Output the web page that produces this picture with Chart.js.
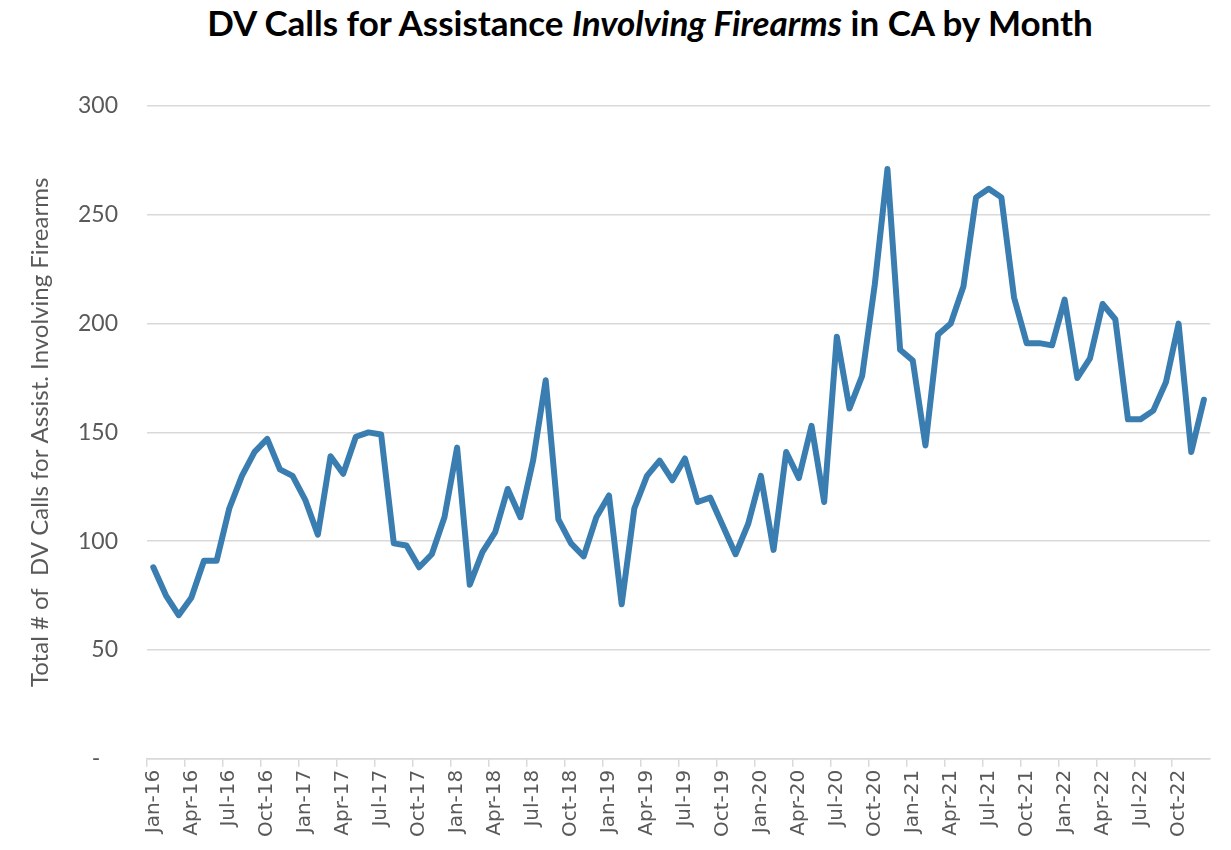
<!DOCTYPE html>
<html>
<head>
<meta charset="utf-8">
<script src="https://cdn.jsdelivr.net/npm/chart.js@4.4.0/dist/chart.umd.min.js"></script>
<style>
  body { margin: 0; background: #fff; }
  #wrap { position: relative; width: 1231px; height: 850px; }
  #title {
    position: absolute; top: 1px; left: 0; width: 1300px; text-align: center;
    font-family: Lato, "Open Sans", sans-serif; font-weight: bold; font-size: 35px; color: #000;
  }
  canvas { position: absolute; top: 0; left: 0; }
</style>
</head>
<body>
<div id="wrap">
  <div id="title">DV Calls for Assistance <i>Involving Firearms</i> in CA by Month</div>
  <canvas id="dvChart" width="1231" height="850"></canvas>
</div>
<script>
const monthNames = ["Jan", "Feb", "Mar", "Apr", "May", "Jun", "Jul", "Aug", "Sep", "Oct", "Nov", "Dec"];
const years = ["16", "17", "18", "19", "20", "21", "22"];

const calls2016 = [88, 75, 66, 74, 91, 91, 115, 130, 141, 147, 133, 130];
const calls2017 = [119, 103, 139, 131, 148, 150, 149, 99, 98, 88, 94, 111];
const calls2018 = [143, 80, 95, 104, 124, 111, 137, 174, 110, 99, 93, 111];
const calls2019 = [121, 71, 115, 130, 137, 128, 138, 118, 120, 107, 94, 108];
const calls2020 = [130, 96, 141, 129, 153, 118, 194, 161, 176, 218, 271, 188];
const calls2021 = [183, 144, 195, 200, 217, 258, 262, 258, 212, 191, 191, 190];
const calls2022 = [211, 175, 184, 209, 202, 156, 156, 160, 173, 200, 141, 165];

const yTicks = [0, 50, 100, 150, 200, 250, 300];

const labels = [];
years.forEach((y) => monthNames.forEach((m) => labels.push(`${m}-${y}`)));
const calls = [].concat(calls2016, calls2017, calls2018, calls2019, calls2020, calls2021, calls2022);

const gray = "#595959";
const gridGray = "#d9d9d9";

new Chart(document.getElementById("dvChart"), {
  type: "line",
  data: {
    labels: labels,
    datasets: [
      {
        label: "DV Calls",
        data: calls,
        borderColor: "#3a7db0",
        borderWidth: 6,
        pointRadius: 0,
        tension: 0,
        borderJoinStyle: "round",
        borderCapStyle: "round",
      },
    ],
  },
  options: {
    responsive: false,
    animation: false,
    devicePixelRatio: 1,
    layout: { padding: { top: 106, right: 18, left: 22, bottom: 10 } },
    plugins: {
      legend: { display: false },
      tooltip: { enabled: false },
    },
    scales: {
      x: {
        offset: true,
        grid: {
          offset: true,
          drawOnChartArea: false,
          tickLength: 8,
          lineWidth: 1.5,
          color: (ctx) => (ctx.index % 3 === 0 ? gridGray : "rgba(0,0,0,0)"),
        },
        border: { display: true, color: gridGray, width: 1.5 },
        ticks: {
          autoSkip: false,
          maxRotation: 90,
          minRotation: 90,
          padding: 3,
          color: gray,
          font: { family: "DejaVu Sans", size: 20 },
          callback: (v, i) => (i % 3 === 0 ? labels[i] : ""),
        },
      },
      y: {
        min: 0,
        max: 300,
        afterBuildTicks: (axis) => {
          axis.ticks = yTicks.map((v) => ({ value: v }));
        },
        afterFit: (axis) => {
          axis.width = 125;
        },
        grid: { color: gridGray, lineWidth: 1.5, drawTicks: false },
        border: { display: false },
        ticks: {
          padding: 29,
          color: gray,
          font: { family: "Lato", size: 23 },
          callback: (v) => (v === 0 ? "-   " : v),
        },
        title: {
          display: true,
          text: "Total # of  DV Calls for Assist. Involving Firearms",
          color: gray,
          font: { family: "Lato", size: 24 },
          padding: { bottom: 2 },
        },
      },
    },
  },
});
</script>
</body>
</html>
